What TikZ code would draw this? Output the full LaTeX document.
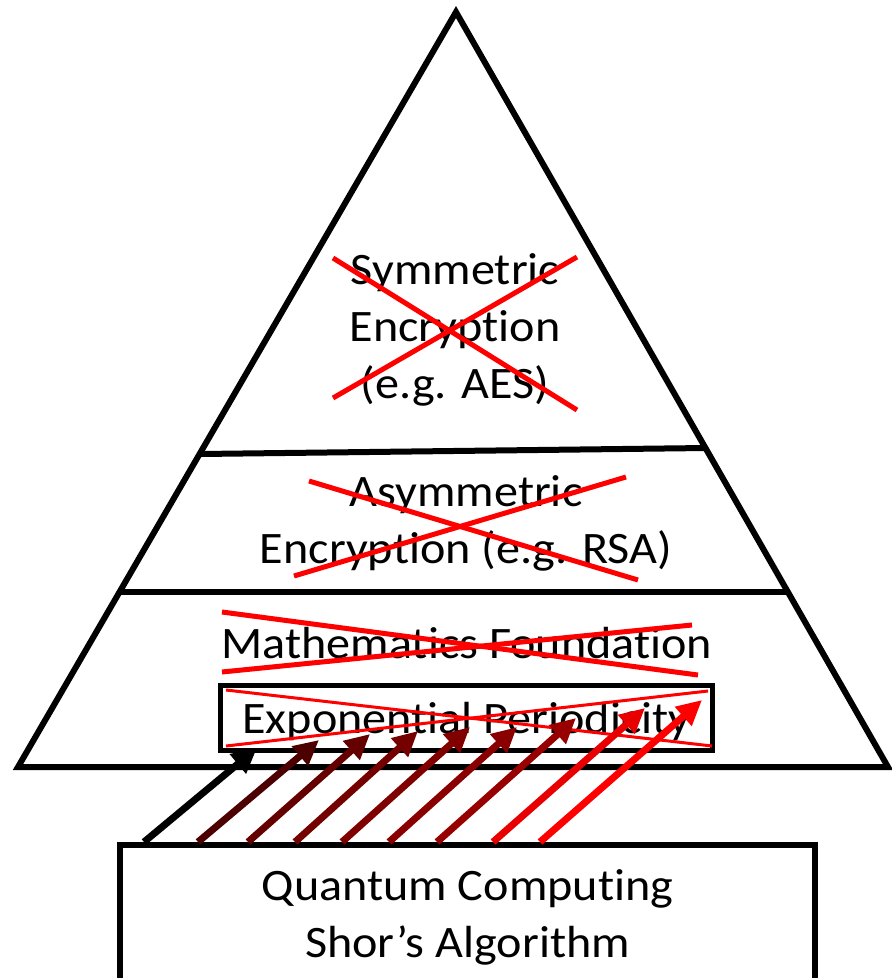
\documentclass[tikz,border=0pt]{standalone}
\usepackage{fontspec}
\setmainfont{Carlito}[Ligatures={TeX,NoCommon},FakeStretch=1.07]
\usepackage{xcolor}
\usepackage{tikz}
\usetikzlibrary{arrows.meta}
\definecolor{strikered}{HTML}{FF0000}
\definecolor{shadeA}{HTML}{4C0000}
\definecolor{shadeB}{HTML}{650000}
\definecolor{shadeC}{HTML}{750000}
\definecolor{shadeD}{HTML}{800000}
\definecolor{shadeE}{HTML}{8A0000}
\definecolor{shadeF}{HTML}{980000}
\definecolor{shadeG}{HTML}{E80000}

\begin{document}
\begin{tikzpicture}[
  x=1pt,y=-1pt,
  tier/.style={align=center,font=\fontsize{45}{57}\selectfont,inner sep=0pt},
  frame/.style={draw=black,line width=6pt},
  cross/.style={draw=strikered,line width=5pt},
  attack/.style={-{Triangle[length=25pt,width=24pt]},line width=7pt}
]
\useasboundingbox (0,0) rectangle (892,978);
% pyramid
\coordinate (apex) at (456,12);
\coordinate (left) at (18,767);
\coordinate (right) at (888,767);
\draw[frame,line join=miter] (apex) -- (left) -- (right) -- cycle;
\draw[frame] (200,454) -- (706,448);
\draw[frame] (120,592) -- (788,592);

\node[tier] (sym) at (455,330) {Symmetric\\Encryption\\(e.g. AES)};
\node[tier] (asym) at (466,523) {Asymmetric\\Encryption (e.g. RSA)};
\node[tier,anchor=base] (math) at (467,658) {Mathematics Foundation};
\node[tier,frame,line width=5pt,minimum width=492pt,minimum height=65pt,text depth=0pt] (expo) at (466.5,718) {Exponential Periodicity};
\node[tier,frame,minimum width=695pt,minimum height=136pt] (qc) at (467.5,913) {};
\node[tier] at ([yshift=-4pt]qc.center) (shor) {Quantum Computing\\Shor’s Algorithm};

% crossed out
\draw[cross] (333,258) -- (577,410);
\draw[cross] (333,398) -- (577,257);
\draw[cross] (309,481) -- (638,580);
\draw[cross] (294,576) -- (626,477);
\draw[cross] (222,612) -- (698,675);
\draw[cross] (222,672) -- (692,625);
\draw[cross,line width=3pt] (226,690) -- (712,746);
\draw[cross,line width=3pt] (226,746) -- (708,691);

% attacks
\coordinate (hit1) at (257,748);
\coordinate (hit2) at (319,740);
\coordinate (hit3) at (370,734);
\coordinate (hit4) at (418,731);
\coordinate (hit5) at (470,727);
\coordinate (hit6) at (517,727);
\coordinate (hit7) at (576,718);
\coordinate (hit8) at (645,708);
\coordinate (hit9) at (702,700);
\draw[attack,black] ([xshift=27pt]qc.north west) -- (hit1);
\draw[attack,shadeA] ([xshift=81pt]qc.north west) -- (hit2);
\draw[attack,shadeB] ([xshift=131pt]qc.north west) -- (hit3);
\draw[attack,shadeC] ([xshift=178pt]qc.north west) -- (hit4);
\draw[attack,shadeD] ([xshift=225pt]qc.north west) -- (hit5);
\draw[attack,shadeE] ([xshift=272pt]qc.north west) -- (hit6);
\draw[attack,shadeF] ([xshift=320pt]qc.north west) -- (hit7);
\draw[attack,shadeG] ([xshift=376pt]qc.north west) -- (hit8);
\draw[attack,strikered] ([xshift=423pt]qc.north west) -- (hit9);
\end{tikzpicture}
\end{document}
